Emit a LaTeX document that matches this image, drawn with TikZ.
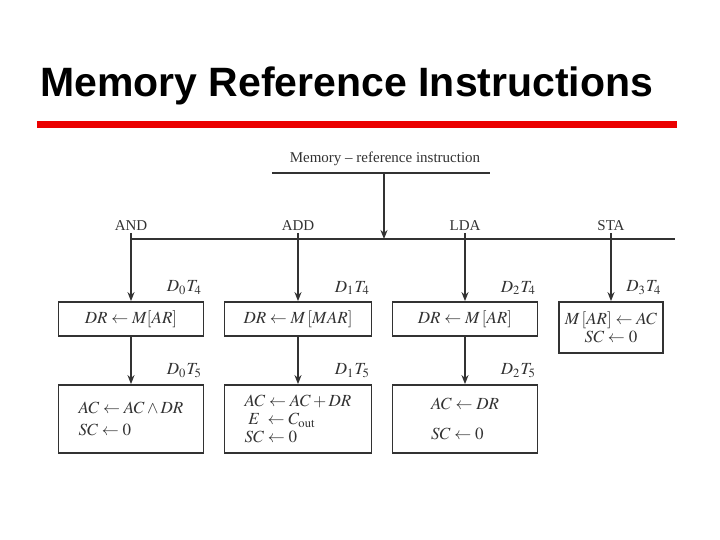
\documentclass[tikz,border=0pt]{standalone}
\usepackage{mathptmx}
\usepackage{fontspec}
\setmainfont{Liberation Serif}
\newfontfamily\titlefont{Liberation Sans}
\usetikzlibrary{arrows.meta, positioning}
\definecolor{ink}{RGB}{50,50,50}
\definecolor{rulered}{RGB}{235,0,0}

\begin{document}
\begin{tikzpicture}[
  x=0.5pt, y=-0.5pt,
  every node/.style={font=\fontsize{7.5}{9}\selectfont, text=ink},
  opbox/.style={rectangle, draw=ink, line width=0.9pt, minimum width=72.5pt,
               minimum height=17pt, inner sep=2pt, align=center,
               font=\fontsize{8.5}{9}\selectfont},
  tallbox/.style={opbox, minimum height=34pt, align=left},
  timing/.style={anchor=south east, inner sep=1pt, yshift=2pt,
                 font=\fontsize{8.5}{9}\selectfont},
  opname/.style={anchor=south, inner sep=1pt, yshift=3pt},
  arr/.style={-{Stealth[length=4.5pt, width=3.5pt]}, draw=ink, line width=0.9pt},
  wire/.style={draw=ink, line width=0.9pt},
]
\useasboundingbox (0,0) rectangle (720,540);

% title and red rule
\node[anchor=base west, inner sep=0pt, text=black,
      font=\titlefont\bfseries\fontsize{20.5}{24}\selectfont] (title) at (40,97)
      {Memory Reference Instructions};
\draw[rulered, line width=3.5pt] (37,125) -- (677,125);

% heading
\node (hdr) at (385,159) {Memory -- reference instruction};
\coordinate (ulL) at (272,173);
\coordinate (ulR) at (490,173);
\coordinate (ulM) at (384,173);
\coordinate (busM) at (384,239);
\coordinate (busR) at (675,239);

% first step (T4)
\node[opbox] (and1) at (131,319) {$DR \leftarrow M[AR]$};
\node[opbox, minimum width=73.5pt] (add1) at (298,319) {$DR \leftarrow M\,[MAR]$};
\node[opbox] (lda1) at (465,319) {$DR \leftarrow M\,[AR]$};
\node[opbox, minimum width=52pt, minimum height=25.5pt] (sta1) at (611,327.5)
     {$M\,[AR] \leftarrow AC$\\$SC \leftarrow 0$};

% second step (T5)
\node[tallbox] (and2) at (131,419) {$AC \leftarrow AC \wedge DR$\\[2pt]$SC \leftarrow 0$};
\node[tallbox, minimum width=73.5pt] (add2) at (298,419)
     {$AC \leftarrow AC + DR$\\$\;E\; \leftarrow C_{\mathrm{out}}$\\$SC \leftarrow 0$};
\node[tallbox] (lda2) at (465,419) {$AC \leftarrow DR$\\[6pt]$SC \leftarrow 0$};

% instruction names
\node[opname] (nand) at (and1.north |- busM) {AND};
\node[opname] (nadd) at (add1.north |- busM) {ADD};
\node[opname] (nlda) at (lda1.north |- busM) {LDA};
\node[opname] (nsta) at (sta1.north |- busM) {STA};

% timing labels
\node[timing] (t04) at (and1.north east) {$D_0T_4$};
\node[timing] (t14) at (add1.north east) {$D_1T_4$};
\node[timing] (t24) at (lda1.north east) {$D_2T_4$};
\node[timing] (t34) at (sta1.north east) {$D_3T_4$};
\node[timing] (t05) at (and2.north east) {$D_0T_5$};
\node[timing] (t15) at (add2.north east) {$D_1T_5$};
\node[timing] (t25) at (lda2.north east) {$D_2T_5$};

% connectors
\draw[wire] (ulL) -- (ulR);
\draw[arr] (ulM) -- (busM);
\draw[wire] (and1.north |- busM) -- (busR);
\draw[arr] (nand.south) -- (and1.north);
\draw[arr] (nadd.south) -- (add1.north);
\draw[arr] (nlda.south) -- (lda1.north);
\draw[arr] (nsta.south) -- (sta1.north);
\draw[arr] (and1) -- (and2);
\draw[arr] (add1) -- (add2);
\draw[arr] (lda1) -- (lda2);
\end{tikzpicture}
\end{document}
